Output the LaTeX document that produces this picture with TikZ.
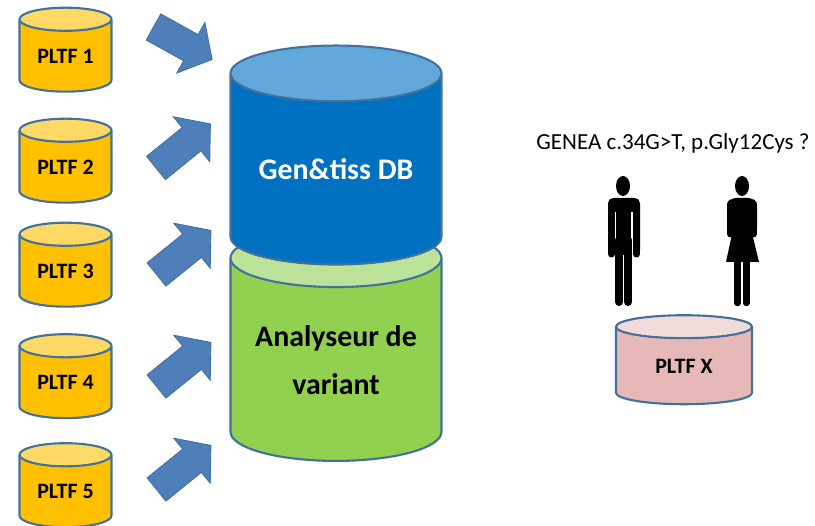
\documentclass[tikz,border=0pt]{standalone}
\usepackage{fontspec}
\setmainfont{Carlito}
\usepackage{tikz}
\usetikzlibrary{shapes.geometric}
\usetikzlibrary{shapes.arrows}

\definecolor{rimblue}{HTML}{41719C}
\definecolor{arrowblue}{HTML}{4F7FBA}
\definecolor{platbody}{HTML}{FFC000}
\definecolor{plattop}{HTML}{FFD966}
\definecolor{varbody}{HTML}{92D050}
\definecolor{vartop}{HTML}{BDE39A}
\definecolor{dbbody}{HTML}{0070C0}
\definecolor{dbtop}{HTML}{63A8DB}
\definecolor{xbody}{HTML}{E6B8B7}
\definecolor{xtop}{HTML}{F2DCDB}

\begin{document}
\begin{tikzpicture}[
        x=.02cm, y=-.02cm,
        every node/.style={inner sep=0pt, outer sep=0pt},
        can/.style={cylinder, shape border rotate=90, draw=rimblue, line width=1.2pt, cylinder uses custom fill},
        platform/.style={can, minimum width=92*.02cm, minimum height=84*.02cm, aspect=.41,
            cylinder body fill=platbody, cylinder end fill=plattop, font=\bfseries\fontsize{12.5}{15}\selectfont},
        bigcan/.style={can, minimum width=211*.02cm, minimum height=221*.02cm, aspect=.36,
            align=center, font=\bfseries\fontsize{17}{27}\selectfont},
        feed/.style={single arrow, anchor=tail, fill=arrowblue, draw=rimblue, line width=.5pt, inner ysep=14.5*.02cm,
            single arrow head extend=14*.02cm, single arrow tip angle=100, single arrow head indent=0pt},
        figure/.style={line width=#1*.02cm, line cap=round, black},
    ]

    \useasboundingbox (0,0) rectangle (815,526);

    % Source platforms
    \node[platform] (P1) at (65.5,56) {PLTF 1};
    \node[platform] (P2) at (65.5,167) {PLTF 2};
    \node[platform] (P3) at (65.5,271) {PLTF 3};
    \node[platform] (P4) at (65.5,382.5) {PLTF 4};
    \node[platform] (P5) at (65.5,491.5) {PLTF 5};

    % Arrows towards the databases
    \node[feed, minimum height=67*.02cm, rotate=-29] (A1) at (153.5,27) {};
    \node[feed, minimum height=70*.02cm, rotate=39] (A2) at (156,168) {};
    \node[feed, minimum height=70*.02cm, rotate=39] (A3) at (156.5,274.5) {};
    \node[feed, minimum height=70*.02cm, rotate=39] (A4) at (156.5,386.5) {};
    \node[feed, minimum height=70*.02cm, rotate=39] (A5) at (156.5,489.5) {};

    % Databases
    \node[bigcan, minimum height=232*.02cm, cylinder body fill=varbody, cylinder end fill=vartop] (VAR) at (336,360) {Analyseur de\\variant};
    \node[bigcan, minimum height=219*.02cm, cylinder body fill=dbbody, cylinder end fill=dbtop, text=white] (DB) at (336,169.5) {Gen\&tiss DB};

    % Question
    \node[font=\fontsize{13.1}{15}\selectfont] (Q) at (673,143) {GENEA c.34G>T, p.Gly12Cys ?};

    % Man
    \fill (623,186) ellipse [x radius=7, y radius=10];
    \fill[rounded corners=3] (608,255) -- (608,198) -- (640,198) -- (640,255) -- cycle;
    \draw[white, line width=.9] (615.5,212) -- (615.5,258);
    \draw[white, line width=.9] (632,212) -- (632,258);
    \draw[figure=8] (619,240) -- (619,302);
    \draw[figure=8] (628,240) -- (628,302);
    \draw[figure=7] (611.5,205) -- (611.5,254);
    \draw[figure=7] (636.5,205) -- (636.5,254);

    % Woman
    \fill (742,186) ellipse [x radius=7, y radius=10];
    \fill[rounded corners=3] (727,203) -- (731,198) -- (753,198) -- (757,203) -- (757,232) -- (727,232) -- cycle;
    \fill (734,225) -- (750,225) -- (759,262) -- (726,262) -- cycle;
    \draw[figure=7] (730.5,204) -- (730.5,234);
    \draw[figure=7] (753.5,204) -- (753.5,234);
    \draw[figure=6.5] (737.5,255) -- (737.5,303);
    \draw[figure=6.5] (746.5,255) -- (746.5,303);

    % Target platform
    \node[can, minimum width=136*.02cm, minimum height=89*.02cm, aspect=.4,
        cylinder body fill=xbody, cylinder end fill=xtop,
        font=\bfseries\fontsize{12.5}{15}\selectfont] (PX) at (684,366) {PLTF X};
\end{tikzpicture}
\end{document}
